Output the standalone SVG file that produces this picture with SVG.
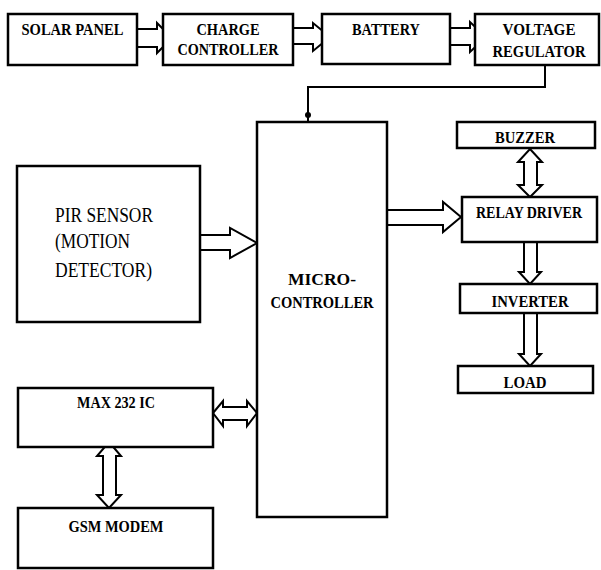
<svg xmlns="http://www.w3.org/2000/svg" width="601" height="570" viewBox="0 0 601 570">
<style>
.box{fill:#fff;stroke:#000;stroke-width:2.5}
.arr{fill:#fff;stroke:#000;stroke-width:2;stroke-linejoin:miter}
.wire{fill:none;stroke:#000;stroke-width:2}
.t{font-family:'Liberation Serif','Times New Roman',serif;font-weight:bold;font-size:16px;fill:#000;text-anchor:middle}
.pir{font-family:'Liberation Serif','Times New Roman',serif;font-size:20px;fill:#000;text-anchor:start}
</style>
<rect width="601" height="570" fill="#fff"/>
<g id="connectors">
<polygon class="arr" points="137,29 157,29 157,23 172,38 157,53 157,47 137,47"/>
<polygon class="arr" points="293,28 313,28 313,23 330,37 313,51 313,44 293,44"/>
<polygon class="arr" points="450,28 470,28 470,22 486,37 470,52 470,45 450,45"/>
<path class="wire" d="M545 65 V87 H308 V122"/>
<circle cx="308" cy="115" r="3"/>
<polygon class="arr" points="200,235 230,235 230,228 257,243 230,258 230,250 200,250"/>
<polygon class="arr" points="387,210 443,210 443,202 461,217 443,232 443,225 387,225"/>
<polygon class="arr" points="530,149 542,162 537,162 537,185 542,185 530,197 518,185 524,185 524,162 518,162"/>
<polygon class="arr" points="524,242 537,242 537,272 541,272 530,284 519,272 524,272"/>
<polygon class="arr" points="524,313 537,313 537,354 541,354 530,366 519,354 524,354"/>
<polygon class="arr" points="109,442 121,456 116,456 116,495 121,495 109,508 97,495 103,495 103,456 97,456"/>
<polygon class="arr" points="213,413 223,401 223,407 247,407 247,401 257,413 247,426 247,420 223,420 223,426"/>
</g>
<g id="solar-panel">
<rect class="box" x="8" y="14" width="129" height="51"/>
<text class="t" x="72.5" y="35" textLength="102" lengthAdjust="spacingAndGlyphs">SOLAR PANEL</text>
</g>
<g id="charge-controller">
<rect class="box" x="163" y="14" width="130" height="51"/>
<text class="t" x="228" y="35" textLength="63" lengthAdjust="spacingAndGlyphs">CHARGE</text>
<text class="t" x="228" y="55" textLength="101" lengthAdjust="spacingAndGlyphs">CONTROLLER</text>
</g>
<g id="battery">
<rect class="box" x="322" y="14" width="128" height="50"/>
<text class="t" x="386" y="35" textLength="68" lengthAdjust="spacingAndGlyphs">BATTERY</text>
</g>
<g id="voltage-regulator">
<rect class="box" x="475" y="14" width="124" height="51"/>
<text class="t" x="539" y="35" textLength="73" lengthAdjust="spacingAndGlyphs">VOLTAGE</text>
<text class="t" x="539" y="57" textLength="93" lengthAdjust="spacingAndGlyphs">REGULATOR</text>
</g>
<g id="microcontroller">
<rect class="box" x="257" y="122" width="130" height="395"/>
<text class="t" x="322" y="285" textLength="68" lengthAdjust="spacingAndGlyphs">MICRO-</text>
<text class="t" x="322" y="308" textLength="103" lengthAdjust="spacingAndGlyphs">CONTROLLER</text>
</g>
<g id="pir-sensor">
<rect class="box" x="17" y="166" width="183" height="156"/>
<text class="pir" x="55" y="222" textLength="98" lengthAdjust="spacingAndGlyphs">PIR SENSOR</text>
<text class="pir" x="55" y="248" textLength="75" lengthAdjust="spacingAndGlyphs">(MOTION</text>
<text class="pir" x="55" y="277" textLength="97" lengthAdjust="spacingAndGlyphs">DETECTOR)</text>
</g>
<g id="buzzer">
<rect class="box" x="457" y="122" width="138" height="26"/>
<text class="t" x="525" y="143" textLength="60" lengthAdjust="spacingAndGlyphs">BUZZER</text>
</g>
<g id="relay-driver">
<rect class="box" x="462" y="197" width="135" height="45"/>
<text class="t" x="529" y="218" textLength="106" lengthAdjust="spacingAndGlyphs">RELAY DRIVER</text>
</g>
<g id="inverter">
<rect class="box" x="460" y="284" width="137" height="29"/>
<text class="t" x="530" y="307" textLength="77" lengthAdjust="spacingAndGlyphs">INVERTER</text>
</g>
<g id="load">
<rect class="box" x="458" y="366" width="135" height="27"/>
<text class="t" x="525" y="388" textLength="43" lengthAdjust="spacingAndGlyphs">LOAD</text>
</g>
<g id="max232">
<rect class="box" x="18" y="388" width="195" height="59"/>
<text class="t" x="116" y="408" textLength="78" lengthAdjust="spacingAndGlyphs">MAX 232 IC</text>
</g>
<g id="gsm-modem">
<rect class="box" x="18" y="508" width="195" height="60"/>
<text class="t" x="116" y="532" textLength="95" lengthAdjust="spacingAndGlyphs">GSM MODEM</text>
</g>
</svg>
